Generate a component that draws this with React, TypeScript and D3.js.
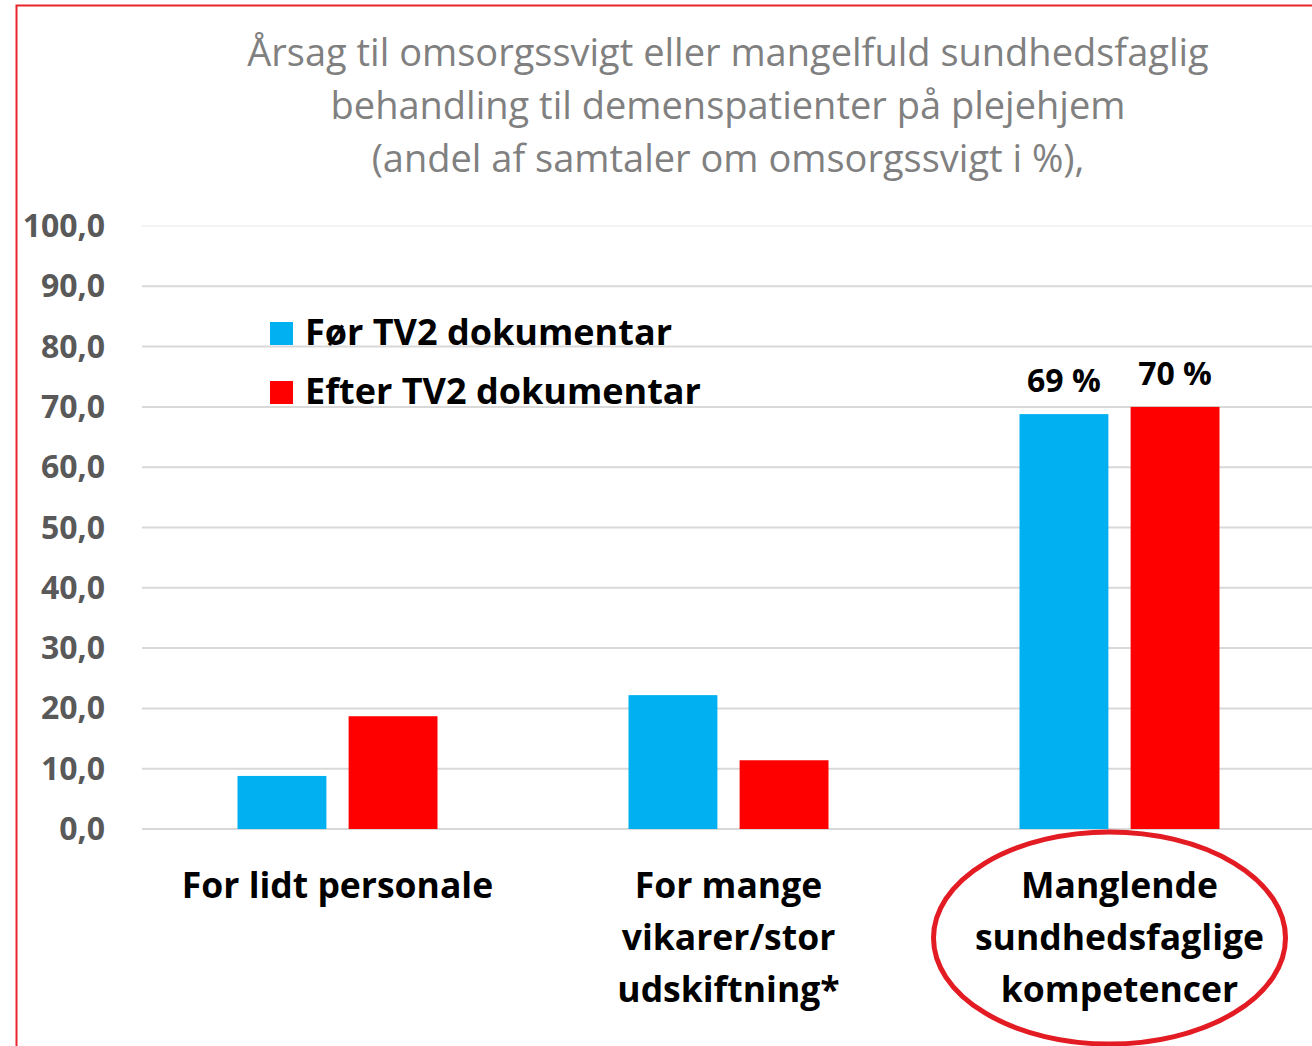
import { useEffect, useRef } from 'react'
import * as d3 from 'd3'

const categories = [
  ['For lidt personale'],
  ['For mange', 'vikarer/stor', 'udskiftning*'],
  ['Manglende', 'sundhedsfaglige', 'kompetencer']
]
const seriesNames = ['Før TV2 dokumentar', 'Efter TV2 dokumentar']
const before = [8.8, 22.2, 68.8]
const after = [18.7, 11.4, 70.0]
const pointLabels = [[null, null], [null, null], ['69 %', '70 %']]
const yTicks = [0, 10, 20, 30, 40, 50, 60, 70, 80, 90, 100]
const titleLines = [
  'Årsag til omsorgssvigt eller mangelfuld sundhedsfaglig',
  'behandling til demenspatienter på plejehjem',
  '(andel af samtaler om omsorgssvigt i %),'
]

const colors = ['#00b0f0', '#ff0000']
const W = 1312
const H = 1046
const labelFont = '"Open Sans", Lato, sans-serif'
const titleFont = '"Open Sans", "Noto Sans", sans-serif'

export default function App() {
  const svgRef = useRef<SVGSVGElement>(null)

  useEffect(() => {
    const svg = d3.select(svgRef.current)
    svg.selectAll('*').remove()

    const locale = d3.formatLocale({ decimal: ',', thousands: '.', grouping: [3], currency: ['', ''] })
    const fmt = locale.format('.1f')

    const x = d3.scaleBand<number>()
      .domain(d3.range(categories.length))
      .range([142, 1315])
    const xInner = d3.scaleBand<number>()
      .domain([0, 1])
      .range([0, 200])
      .paddingInner(0.2)
    const y = d3.scaleLinear().domain([0, 100]).range([829, 226])

    // frame
    svg.append('rect')
      .attr('x', 16.5).attr('y', 5.5)
      .attr('width', W + 20).attr('height', H + 20)
      .attr('fill', 'none')
      .attr('stroke', '#e8242c')
      .attr('stroke-width', 2)

    // title
    svg.append('g')
      .selectAll('text')
      .data(titleLines)
      .join('text')
      .attr('x', 728)
      .attr('y', (_, i) => 66 + i * 53)
      .attr('text-anchor', 'middle')
      .style('font-family', titleFont)
      .style('font-size', '38px')
      .style('fill', '#808080')
      .text(d => d)

    // grid
    svg.append('g')
      .selectAll('line')
      .data(yTicks)
      .join('line')
      .attr('x1', 142).attr('x2', W)
      .attr('y1', d => y(d)).attr('y2', d => y(d))
      .attr('stroke', d => d === 100 ? '#f3f3f3' : '#d9d9d9')
      .attr('stroke-width', 2)

    // y tick labels
    svg.append('g')
      .selectAll('text')
      .data(yTicks)
      .join('text')
      .attr('x', 105)
      .attr('y', d => y(d) + 11)
      .attr('text-anchor', 'end')
      .style('font-family', labelFont)
      .style('font-weight', 'bold')
      .style('font-size', '32px')
      .style('fill', '#595959')
      .text(d => fmt(d))

    // bars
    const series = [before, after]
    const groups = svg.append('g')
      .selectAll('g')
      .data(categories)
      .join('g')
      .attr('transform', (_, i) => `translate(${x(i)! + (x.bandwidth() - 200) / 2},0)`)
    groups.selectAll('rect')
      .data((_, i) => series.map((s, k) => ({ v: s[i], k })))
      .join('rect')
      .attr('x', d => xInner(d.k)!)
      .attr('width', xInner.bandwidth())
      .attr('y', d => y(d.v))
      .attr('height', d => y(0) - y(d.v))
      .attr('fill', d => colors[d.k])

    // point labels
    groups.selectAll('text')
      .data((_, i) => pointLabels[i].map((t, k) => ({ t, k, v: series[k][i] })).filter(d => d.t))
      .join('text')
      .attr('x', d => xInner(d.k)! + xInner.bandwidth() / 2)
      .attr('y', d => y(d.v) - 22)
      .attr('text-anchor', 'middle')
      .style('font-family', labelFont)
      .style('font-weight', 'bold')
      .style('font-size', '32px')
      .style('fill', '#000')
      .text(d => d.t as string)

    // category labels
    const cat = svg.append('g')
      .selectAll('text')
      .data(categories)
      .join('text')
      .attr('text-anchor', 'middle')
      .style('font-family', labelFont)
      .style('font-weight', 'bold')
      .style('font-size', '35.5px')
      .style('fill', '#000')
    cat.selectAll('tspan')
      .data((d, i) => d.map((line, j) => ({ line, j, i })))
      .join('tspan')
      .attr('x', d => x(d.i)! + x.bandwidth() / 2)
      .attr('y', d => 898 + d.j * 52)
      .text(d => d.line)

    // highlight ellipse
    svg.append('ellipse')
      .attr('cx', x(2)! + x.bandwidth() / 2 - 10)
      .attr('cy', 938)
      .attr('rx', 176)
      .attr('ry', 106)
      .attr('fill', 'none')
      .attr('stroke', '#e31b23')
      .attr('stroke-width', 5)

    // legend
    const legend = svg.append('g')
      .selectAll('g')
      .data(seriesNames)
      .join('g')
      .attr('transform', (_, i) => `translate(270,${322 + i * 59})`)
    legend.append('rect')
      .attr('width', 23).attr('height', 23)
      .attr('fill', (_, i) => colors[i])
    legend.append('text')
      .attr('x', 35)
      .attr('y', 23)
      .style('font-family', labelFont)
      .style('font-weight', 'bold')
      .style('font-size', '36px')
      .style('fill', '#000')
      .text(d => d)
  }, [])

  return (
    <svg
      ref={svgRef}
      width={W}
      height={H}
      style={{ position: 'absolute', left: 0, top: 0, background: '#fff' }}
    />
  )
}
